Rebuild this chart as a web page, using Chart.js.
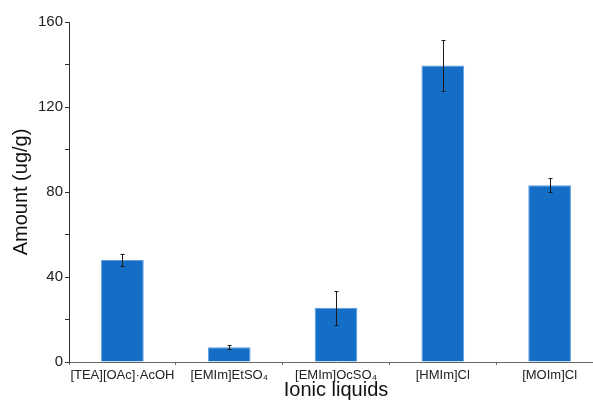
<!DOCTYPE html>
<html>
<head>
<meta charset="utf-8">
<script src="https://cdn.jsdelivr.net/npm/chart.js@4"></script>
<style>
  html, body { margin: 0; padding: 0; background: #fff; overflow: hidden; }
  #wrap { width: 603px; height: 403px; }
</style>
</head>
<body>
<div id="wrap"><canvas id="chart" width="603" height="403"></canvas></div>
<script>
// Data
const liquids = ['[TEA][OAc]\u00b7AcOH', '[EMIm]EtSO\u2084', '[EMIm]OcSO\u2084', '[HMIm]Cl', '[MOIm]Cl'];
const amounts = [48, 7, 25.5, 139.5, 83.2];
const errors = [3, 1, 8, 12, 3.4];

// Draws the error bars using the chart's own scales
const errorBars = {
    id: 'errorBars',
    afterDatasetsDraw(chart) {
        const ctx = chart.ctx;
        const yScale = chart.scales.y;
        const meta = chart.getDatasetMeta(0);
        ctx.save();
        ctx.strokeStyle = '#1a1a1a';
        ctx.lineWidth = 1;
        meta.data.forEach((bar, i) => {
            const x = Math.round(bar.x) + 0.5;
            const yTop = Math.round(yScale.getPixelForValue(amounts[i] + errors[i])) + 0.5;
            const yBot = Math.round(yScale.getPixelForValue(amounts[i] - errors[i])) + 0.5;
            ctx.beginPath();
            ctx.moveTo(x, yTop); ctx.lineTo(x, yBot);
            ctx.moveTo(x - 2, yTop); ctx.lineTo(x + 2, yTop);
            ctx.moveTo(x - 2, yBot); ctx.lineTo(x + 2, yBot);
            ctx.stroke();
        });
        ctx.restore();
    }
};

new Chart(document.getElementById('chart'), {
    type: 'bar',
    data: {
        labels: liquids,
        datasets: [{
            data: amounts,
            backgroundColor: '#146ec6',
            borderColor: '#5e9fe0',
            borderWidth: 1,
            barPercentage: 0.4,
            categoryPercentage: 1
        }]
    },
    plugins: [errorBars],
    options: {
        responsive: false,
        animation: false,
        layout: { padding: { top: 22, right: 0, bottom: 0, left: 0 } },
        plugins: {
            legend: { display: false },
            tooltip: { enabled: false }
        },
        scales: {
            x: {
                offset: true,
                afterFit: (scale) => { scale.height = 41; },
                grid: {
                    offset: true,
                    drawOnChartArea: false,
                    drawTicks: true,
                    tickLength: 3,
                    color: '#666'
                },
                border: { color: '#666', width: 1 },
                ticks: {
                    color: '#222',
                    padding: 3,
                    maxRotation: 0,
                    autoSkip: false,
                    font: { family: 'Liberation Sans, Arial, sans-serif', size: 13 }
                },
                title: {
                    display: true,
                    text: 'Ionic liquids',
                    color: '#111',
                    padding: { top: 0, bottom: 1 },
                    font: { family: 'Liberation Sans, Arial, sans-serif', size: 20 }
                }
            },
            y: {
                min: 0,
                max: 160,
                afterFit: (scale) => { scale.width = 69; },
                grid: {
                    drawOnChartArea: false,
                    drawTicks: true,
                    tickLength: 4,
                    color: '#333'
                },
                border: { color: '#333', width: 1 },
                ticks: {
                    stepSize: 20,
                    color: '#222',
                    padding: 2,
                    font: { family: 'Liberation Sans, Arial, sans-serif', size: 15 },
                    callback: (v) => (v % 40 === 0 ? v : '')
                },
                title: {
                    display: true,
                    text: 'Amount (ug/g)',
                    color: '#111',
                    padding: { top: 9, bottom: 0 },
                    font: { family: 'Liberation Sans, Arial, sans-serif', size: 20 }
                }
            }
        }
    }
});
</script>
</body>
</html>
